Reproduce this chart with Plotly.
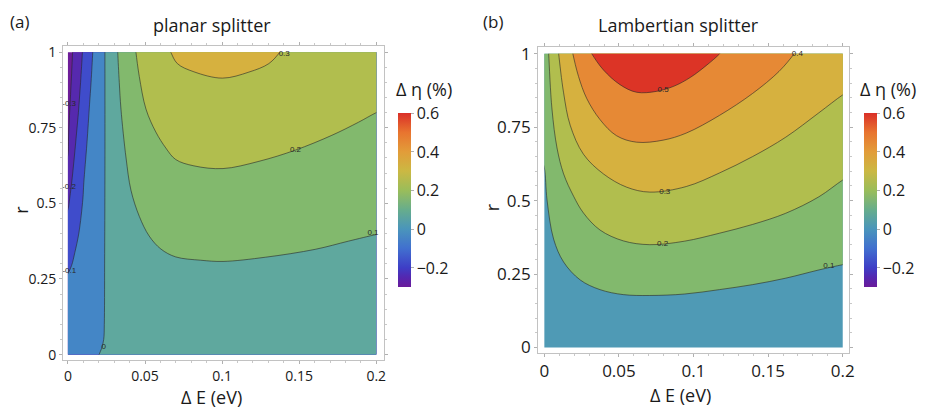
import plotly.graph_objects as go

W, H = 927, 412

# ---------------- data ----------------
# axes (ΔE in eV, r)
X_RANGE = [0.0, 0.2]
Y_RANGE = [0.0, 1.0]
X_TICKS = [0, 0.05, 0.1, 0.15, 0.2]
X_TICK_TEXT = ["0", "0.05", "0.1", "0.15", "0.2"]
Y_TICKS = [0, 0.25, 0.5, 0.75, 1]
Y_TICK_TEXT = ["0", "0.25", "0.5", "0.75", "1"]

# colour bar
CB_RANGE = [-0.3, 0.6]
CB_TICKS = [-0.2, 0.0, 0.2, 0.4, 0.6]
CB_TICK_TEXT = ["\u22120.2", "0", "0.2", "0.4", "0.6"]
CB_STOP_VALUES = [-0.3, -0.25, -0.2, -0.1, 0.0, 0.1, 0.2, 0.3, 0.4, 0.5, 0.6]
CB_STOP_COLORS = ["#6a1b9a", "#5427b0", "#3e3ec6", "#4170cf", "#4a95bb", "#67ad8c",
                  "#9abd5a", "#cbb843", "#e29c39", "#e8742f", "#da2f28"]

# ---- panel (a) planar splitter : contour lines ----
A_LEVELS = [-0.3, -0.2, -0.1, 0.0, 0.1, 0.2, 0.3]
A_M03_X = [0.0030, 0.0024, 0.0017, 0.0010, 0.0004, 0.0]
A_M03_Y = [1.0, 0.93, 0.86, 0.79, 0.72, 0.66]
A_M02_X = [0.0094, 0.0082, 0.0068, 0.0050, 0.0031, 0.0011, 0.0]
A_M02_Y = [1.0, 0.90, 0.80, 0.70, 0.60, 0.515, 0.48]
A_M01_X = [0.0161, 0.0150, 0.0140, 0.0123, 0.0103, 0.0097, 0.0071, 0.0045, 0.0024, 0.0]
A_M01_Y = [1.0, 0.90, 0.826, 0.697, 0.568, 0.515, 0.402, 0.338, 0.295, 0.268]
A_P00_X = [0.0240, 0.0240, 0.0238, 0.0236, 0.0232, 0.0218, 0.0202]
A_P00_Y = [1.0, 0.60, 0.30, 0.10, 0.05, 0.02, 0.0]
A_P01_X = [0.0323, 0.0333, 0.0344, 0.0377, 0.0409, 0.0463, 0.0527, 0.0603, 0.0699,
           0.0861, 0.1006, 0.1282, 0.1604, 0.1819, 0.2]
A_P01_Y = [1.0, 0.90, 0.812, 0.650, 0.543, 0.457, 0.392, 0.349, 0.323,
           0.312, 0.308, 0.322, 0.348, 0.375, 0.397]
A_P02_X = [0.0441, 0.0463, 0.0506, 0.0570, 0.0635, 0.0699, 0.0817, 0.1006, 0.1239,
           0.1475, 0.1712, 0.1884, 0.2]
A_P02_Y = [1.0, 0.919, 0.812, 0.736, 0.683, 0.645, 0.624, 0.615, 0.639,
           0.676, 0.725, 0.768, 0.80]
A_P03_X = [0.0667, 0.0710, 0.0817, 0.1002, 0.1174, 0.1303, 0.1375]
A_P03_Y = [1.0, 0.962, 0.935, 0.914, 0.934, 0.962, 1.0]
A_BAND_COLORS = ["#6d1c98", "#5629ae", "#3f4ccb", "#4486c6", "#5fa89e",
                 "#82b96d", "#b1be4e", "#d6b13f"]
A_LABELS = ["-0.3", "-0.2", "-0.1", "0", "0.1", "0.2", "0.3"]
A_LABEL_X = [0.0008, 0.0007, 0.0009, 0.0232, 0.1979, 0.1476, 0.1403]
A_LABEL_Y = [0.828, 0.553, 0.276, 0.0245, 0.401, 0.677, 0.9925]

# ---- panel (b) Lambertian splitter : contour lines ----
B_LEVELS = [0.1, 0.2, 0.3, 0.4, 0.5]
B_P01_X = [0.0, 0.0018, 0.0062, 0.0129, 0.0240, 0.0373, 0.0529, 0.0707, 0.0940,
           0.1173, 0.1396, 0.1618, 0.1840, 0.2]
B_P01_Y = [0.612, 0.502, 0.369, 0.291, 0.230, 0.197, 0.180, 0.177, 0.182,
           0.197, 0.214, 0.236, 0.264, 0.282]
B_P02_X = [0.0029, 0.0051, 0.0085, 0.0129, 0.0196, 0.0262, 0.0373, 0.0529, 0.0707,
           0.0940, 0.1173, 0.1396, 0.1618, 0.1840, 0.2]
B_P02_Y = [1.0, 0.812, 0.679, 0.591, 0.515, 0.458, 0.400, 0.363, 0.350,
           0.362, 0.389, 0.419, 0.457, 0.513, 0.570]
B_P03_X = [0.0096, 0.0129, 0.0173, 0.0262, 0.0396, 0.0551, 0.0707, 0.0951, 0.1173,
           0.1396, 0.1618, 0.1840, 0.2]
B_P03_Y = [1.0, 0.867, 0.757, 0.658, 0.591, 0.546, 0.529, 0.548, 0.594,
           0.650, 0.716, 0.799, 0.860]
B_P04_X = [0.0191, 0.0229, 0.0284, 0.0373, 0.0484, 0.0618, 0.0796, 0.0951, 0.1173,
           0.1396, 0.1573, 0.1674]
B_P04_Y = [1.0, 0.923, 0.848, 0.776, 0.721, 0.699, 0.706, 0.730, 0.790,
           0.865, 0.940, 1.0]
B_P05_X = [0.0318, 0.0396, 0.0507, 0.0618, 0.0751, 0.0870, 0.0980, 0.1090, 0.1175]
B_P05_Y = [1.0, 0.945, 0.895, 0.869, 0.872, 0.890, 0.920, 0.962, 1.0]
B_BAND_COLORS = ["#4f9ab5", "#82b96d", "#b1be4e", "#d6b13f", "#e68935", "#dc3426"]
B_LABELS = ["0.1", "0.2", "0.3", "0.4", "0.5"]
B_LABEL_X = [0.1907, 0.0793, 0.0807, 0.1696, 0.0796]
B_LABEL_Y = [0.277, 0.354, 0.529, 0.9977, 0.878]

# ---------------- layout geometry (pixels) ----------------
FONT = "Open Sans"
TXT = "#1a1a1a"
PANELS = [
    dict(levels=A_LEVELS,
         lines=[(A_M03_X, A_M03_Y), (A_M02_X, A_M02_Y), (A_M01_X, A_M01_Y), (A_P00_X, A_P00_Y),
                (A_P01_X, A_P01_Y), (A_P02_X, A_P02_Y), (A_P03_X, A_P03_Y)],
         colors=A_BAND_COLORS, labels=(A_LABELS, A_LABEL_X, A_LABEL_Y),
         data_px=(68.3, 378.3, 48.3, 358.3), frame_px=(63.3, 386.0, 41.7, 364.3),
         tick_size=14, cb_x=400, title="planar splitter", title_x=213.3,
         tag="(a)", tag_x=20, xt_x=213, xt_y=402, rt_x=21, rt_y=210, cbt_x=426),
    dict(levels=B_LEVELS,
         lines=[(B_P01_X, B_P01_Y), (B_P02_X, B_P02_Y), (B_P03_X, B_P03_Y),
                (B_P04_X, B_P04_Y), (B_P05_X, B_P05_Y)],
         colors=B_BAND_COLORS, labels=(B_LABELS, B_LABEL_X, B_LABEL_Y),
         data_px=(547.3, 847.3, 50.0, 351.0), frame_px=(541.0, 854.0, 43.3, 356.7),
         tick_size=17, cb_x=869, title="Lambertian splitter", title_x=682,
         tag="(b)", tag_x=496, xt_x=684, xt_y=400, rt_x=495, rt_y=207, cbt_x=893),
]

X0, X1 = X_RANGE
Y0, Y1 = Y_RANGE
PADX = 0.006 * (X1 - X0) / 0.2
PADY = 0.03 * (Y1 - Y0)


def perim(x, y):
    u = (x - X0) / (X1 - X0)
    v = (y - Y0) / (Y1 - Y0)
    t = 1e-9
    if abs(v) < t:
        return u
    if abs(u - 1) < t:
        return 1 + v
    if abs(v - 1) < t:
        return 2 + (1 - u)
    return 3 + (1 - v)


def normal(x, y):
    s = perim(x, y)
    if s < 1:
        return 0.0, -1.0
    if s < 2:
        return 1.0, 0.0
    if s < 3:
        return 0.0, 1.0
    return -1.0, 0.0


def ext(x, y, xp, yp):
    # continue the contour a little beyond the frame (clipped away), along its own direction
    nx, ny = normal(x, y)
    dx = (x - xp) / PADX
    dy = (y - yp) / PADY
    n = (dx * dx + dy * dy) ** 0.5 or 1.0
    dx, dy = dx / n + 0.25 * nx, dy / n + 0.25 * ny
    return x + dx * PADX, y + dy * PADY


def corner(k):
    k = k % 4
    return [(X0 - 3 * PADX, Y0 - 3 * PADY), (X1 + 3 * PADX, Y0 - 3 * PADY),
            (X1 + 3 * PADX, Y1 + 3 * PADY), (X0 - 3 * PADX, Y1 + 3 * PADY)][k]


def extended(xs, ys):
    sx, sy = ext(xs[0], ys[0], xs[1], ys[1])
    ex, ey = ext(xs[-1], ys[-1], xs[-2], ys[-2])
    return [sx] + list(xs) + [ex], [sy] + list(ys) + [ey]


def superlevel(xs, ys):
    px, py = extended(xs, ys)
    se = perim(xs[-1], ys[-1])
    ss = perim(xs[0], ys[0])
    if ss <= se:
        ss += 4
    for k in range(1, 9):
        if se < k < ss:
            cx, cy = corner(k)
            px.append(cx)
            py.append(cy)
    return px, py


fig = go.Figure()
layout_axes = {}
annotations = []

for i, p in enumerate(PANELS):
    dxa, dya = f"x{2 * i + 1}", f"y{2 * i + 1}"
    fxa, fya = f"x{2 * i + 2}", f"y{2 * i + 2}"
    dl, dr, dt, db = p["data_px"]
    fl, fr, ft, fb = p["frame_px"]

    # background (lowest band)
    bx = [corner(k)[0] for k in range(4)]
    by = [corner(k)[1] for k in range(4)]
    fig.add_trace(go.Scatter(x=bx, y=by, xaxis=dxa, yaxis=dya, mode="lines", fill="toself",
                             fillcolor=p["colors"][0], line=dict(width=0),
                             hoverinfo="skip", showlegend=False))
    # superlevel regions, painted in ascending order
    for (xs, ys), col in zip(p["lines"], p["colors"][1:]):
        px_, py_ = superlevel(xs, ys)
        fig.add_trace(go.Scatter(x=px_, y=py_, xaxis=dxa, yaxis=dya, mode="lines",
                                 fill="toself", fillcolor=col,
                                 line=dict(width=0, shape="spline", smoothing=1),
                                 hoverinfo="skip", showlegend=False))
    # contour lines
    for (xs, ys) in p["lines"]:
        lx, ly = extended(xs, ys)
        fig.add_trace(go.Scatter(x=lx, y=ly, xaxis=dxa, yaxis=dya, mode="lines",
                                 line=dict(width=0.8, color="rgba(40,40,40,0.75)",
                                           shape="spline", smoothing=1),
                                 hoverinfo="skip", showlegend=False))
    # contour labels
    lt, lxs, lys = p["labels"]
    fig.add_trace(go.Scatter(x=lxs, y=lys, xaxis=dxa, yaxis=dya, mode="text", text=lt,
                             textfont=dict(size=8, color="#2a2a2a", family="Liberation Sans"),
                             cliponaxis=False, hoverinfo="skip", showlegend=False))
    # colour bar carrier
    cs = [[(v - CB_RANGE[0]) / (CB_RANGE[1] - CB_RANGE[0]), c]
          for v, c in zip(CB_STOP_VALUES, CB_STOP_COLORS)]
    fig.add_trace(go.Scatter(
        x=[None], y=[None], xaxis=dxa, yaxis=dya, mode="markers",
        marker=dict(color=[CB_RANGE[0]], cmin=CB_RANGE[0], cmax=CB_RANGE[1], colorscale=cs,
                    showscale=True,
                    colorbar=dict(x=p["cb_x"] / W, xanchor="left", y=1 - 111 / H, yanchor="top",
                                  lenmode="pixels", len=174, thicknessmode="pixels",
                                  thickness=13, outlinewidth=0, xpad=0, ypad=0,
                                  tickmode="array", tickvals=CB_TICKS, ticktext=CB_TICK_TEXT,
                                  ticks="outside", ticklen=3, tickcolor="#b0b0b0",
                                  tickfont=dict(size=16, color=TXT, family=FONT))),
        hoverinfo="skip", showlegend=False))
    # frame carrier (empty)
    fig.add_trace(go.Scatter(x=[], y=[], xaxis=fxa, yaxis=fya, mode="markers",
                             hoverinfo="skip", showlegend=False))

    # axes
    def val_x(pxv):
        return X0 + (pxv - dl) / (dr - dl) * (X1 - X0)

    def val_y(pyv):
        return Y0 + (db - pyv) / (db - dt) * (Y1 - Y0)

    key = lambda a: ("xaxis" if a[0] == "x" else "yaxis") + ("" if a[1:] == "1" else a[1:])
    layout_axes[key(dxa)] = dict(domain=[dl / W, dr / W], range=X_RANGE, visible=False,
                                 anchor=dya, fixedrange=True)
    layout_axes[key(dya)] = dict(domain=[1 - db / H, 1 - dt / H], range=Y_RANGE, visible=False,
                                 anchor=dxa, fixedrange=True)
    tick_common = dict(showline=True, mirror="ticks", linecolor="#c2c2c2", linewidth=1,
                       showgrid=False, zeroline=False, ticks="outside", ticklen=3,
                       tickcolor="#b0b0b0", tickwidth=1, fixedrange=True,
                       tickfont=dict(size=p["tick_size"], color=TXT, family=FONT))
    layout_axes[key(fxa)] = dict(domain=[fl / W, fr / W], range=[val_x(fl), val_x(fr)],
                                 anchor=fya, tickmode="array", tickvals=X_TICKS,
                                 ticktext=X_TICK_TEXT,
                                 minor=dict(ticks="outside", ticklen=2, tickcolor="#c8c8c8",
                                            tick0=0, dtick=0.01),
                                 **tick_common)
    layout_axes[key(fya)] = dict(domain=[1 - fb / H, 1 - ft / H], range=[val_y(fb), val_y(ft)],
                                 anchor=fxa, tickmode="array", tickvals=Y_TICKS,
                                 ticktext=Y_TICK_TEXT,
                                 minor=dict(ticks="outside", ticklen=2, tickcolor="#c8c8c8",
                                            tick0=0, dtick=0.05),
                                 **tick_common)

    # text
    def ann(text, xpx, ypx, size, angle=0):
        annotations.append(dict(text=text, x=xpx / W, y=1 - ypx / H, xref="paper",
                                yref="paper", showarrow=False, xanchor="center",
                                yanchor="middle", textangle=angle,
                                font=dict(size=size, color=TXT, family=FONT)))

    ann(p["title"], p["title_x"], 20, 18)
    ann(p["tag"], p["tag_x"], 17, 17)
    ann("\u0394 E (eV)", p["xt_x"], p["xt_y"], 18)
    ann("r", p["rt_x"], p["rt_y"], 18, -90)
    ann("\u0394 \u03b7 (%)", p["cbt_x"], 86, 18)

fig.update_layout(width=W, height=H, margin=dict(l=0, r=0, t=0, b=0),
                  paper_bgcolor="white", plot_bgcolor="rgba(0,0,0,0)",
                  showlegend=False, annotations=annotations, **layout_axes)

fig.write_html("out.html", config={"displayModeBar": False, "staticPlot": True},
               post_script="document.body.style.margin='0px';"
                           "document.body.style.overflow='hidden';")
